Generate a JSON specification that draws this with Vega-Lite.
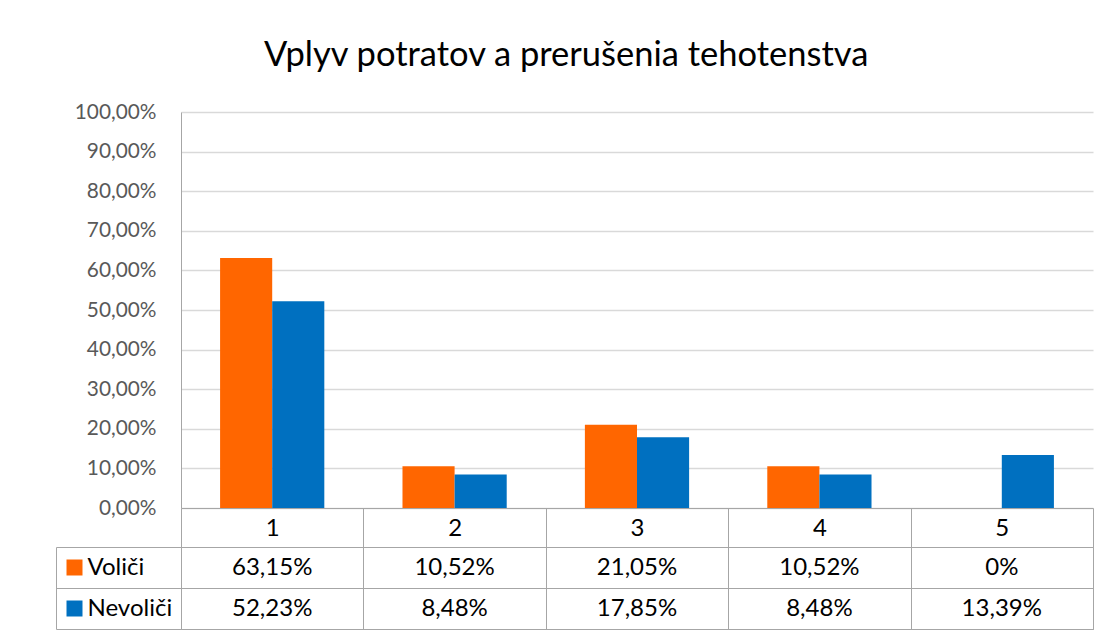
{
  "$schema": "https://vega.github.io/schema/vega-lite/v6.json",
  "padding": {"left": 55, "top": 37, "right": 10, "bottom": 0},
  "autosize": {"type": "pad"},
  "title": {"text": "Vplyv potratov a prerušenia tehotenstva", "font": "Lato", "fontSize": 34.5, "fontWeight": "normal", "color": "#000000", "offset": 28, "anchor": "middle", "dx": -8},
  "config": {"font": "Lato", "view": {"stroke": null}},
  "data": {"values": [
    {"cat": "1", "series": "Voliči", "value": 63.15, "label": "63,15%"},
    {"cat": "2", "series": "Voliči", "value": 10.52, "label": "10,52%"},
    {"cat": "3", "series": "Voliči", "value": 21.05, "label": "21,05%"},
    {"cat": "4", "series": "Voliči", "value": 10.52, "label": "10,52%"},
    {"cat": "5", "series": "Voliči", "value": 0, "label": "0%"},
    {"cat": "1", "series": "Nevoliči", "value": 52.23, "label": "52,23%"},
    {"cat": "2", "series": "Nevoliči", "value": 8.48, "label": "8,48%"},
    {"cat": "3", "series": "Nevoliči", "value": 17.85, "label": "17,85%"},
    {"cat": "4", "series": "Nevoliči", "value": 8.48, "label": "8,48%"},
    {"cat": "5", "series": "Nevoliči", "value": 13.39, "label": "13,39%"}
  ]},
  "bounds": "flush",
  "spacing": 39,
  "vconcat": [
    {
      "width": 912,
      "height": 396,
      "mark": {"type": "bar"},
      "encoding": {
        "x": {"field": "cat", "type": "nominal", "sort": ["1","2","3","4","5"],
          "scale": {"paddingInner": 0, "paddingOuter": 0},
          "axis": {"title": null, "labelAngle": 0, "domainColor": "#a6a6a6", "domainWidth": 1, "tickBand": "extent", "tickSize": 39, "tickColor": "#a6a6a6", "tickWidth": 1, "labelFont": "Lato", "labelFontSize": 24, "labelColor": "#000000", "labelBaseline": "middle", "labelPadding": -19, "grid": false}},
        "xOffset": {"field": "series", "type": "nominal", "sort": ["Voliči", "Nevoliči"], "scale": {"paddingInner": 0, "paddingOuter": 0.75}},
        "y": {"field": "value", "type": "quantitative", "scale": {"domain": [0, 100], "nice": false},
          "axis": {"title": null, "values": [0, 10, 20, 30, 40, 50, 60, 70, 80, 90, 100], "labelExpr": "replace(format(datum.value, '.2f'), '.', ',') + '%'", "labelFont": "Lato", "labelFontSize": 20.8, "labelColor": "#595959", "labelPadding": 25, "ticks": false, "domainColor": "#a6a6a6", "domainWidth": 1, "grid": true, "gridColor": "#d9d9d9", "gridWidth": 1.3}},
        "color": {"field": "series", "type": "nominal", "scale": {"domain": ["Voliči", "Nevoliči"], "range": ["#ff6600", "#0070c0"]}, "legend": null}
      }
    },
    {
      "width": 912,
      "height": 82,
      "view": {"stroke": "#a6a6a6", "strokeWidth": 1},
      "resolve": {"axis": {"y": "independent"}},
      "layer": [
        {
          "mark": {"type": "text", "font": "Lato", "fontSize": 24, "color": "#000000"},
          "encoding": {
            "x": {"field": "cat", "type": "nominal", "sort": ["1","2","3","4","5"], "scale": {"paddingInner": 0, "paddingOuter": 0},
              "axis": {"title": null, "labels": false, "ticks": false, "domain": false, "grid": true, "tickBand": "extent", "gridColor": "#a6a6a6", "gridWidth": 1}},
            "y": {"field": "series", "type": "nominal", "sort": ["Voliči", "Nevoliči"], "scale": {"paddingInner": 0, "paddingOuter": 0},
              "axis": {"orient": "left", "title": null, "offset": 125, "domain": true, "domainColor": "#a6a6a6", "domainWidth": 1, "ticks": true, "tickBand": "extent", "tickSize": -125, "tickColor": "#a6a6a6", "tickWidth": 1, "labels": true, "labelAlign": "left", "labelBaseline": "middle", "labelPadding": 94, "labelFont": "Lato", "labelFontSize": 24, "labelColor": "#000000", "grid": true, "gridColor": "#a6a6a6", "gridWidth": 1}},
            "text": {"field": "label"}
          }
        },
        {
          "mark": {"type": "text", "opacity": 0},
          "encoding": {
            "x": {"field": "cat", "type": "nominal", "sort": ["1","2","3","4","5"]},
            "y": {"field": "series", "type": "nominal", "sort": ["Voliči", "Nevoliči"],
              "axis": {"orient": "left", "title": null, "offset": 99, "domain": false, "labels": false, "grid": false, "ticks": true, "tickBand": "center", "tickSize": 16, "tickWidth": 16, "tickColor": {"condition": {"test": "datum.value === 'Voliči'", "value": "#ff6600"}, "value": "#0070c0"}}},
            "text": {"value": ""}
          }
        }
      ]
    }
  ]
}
